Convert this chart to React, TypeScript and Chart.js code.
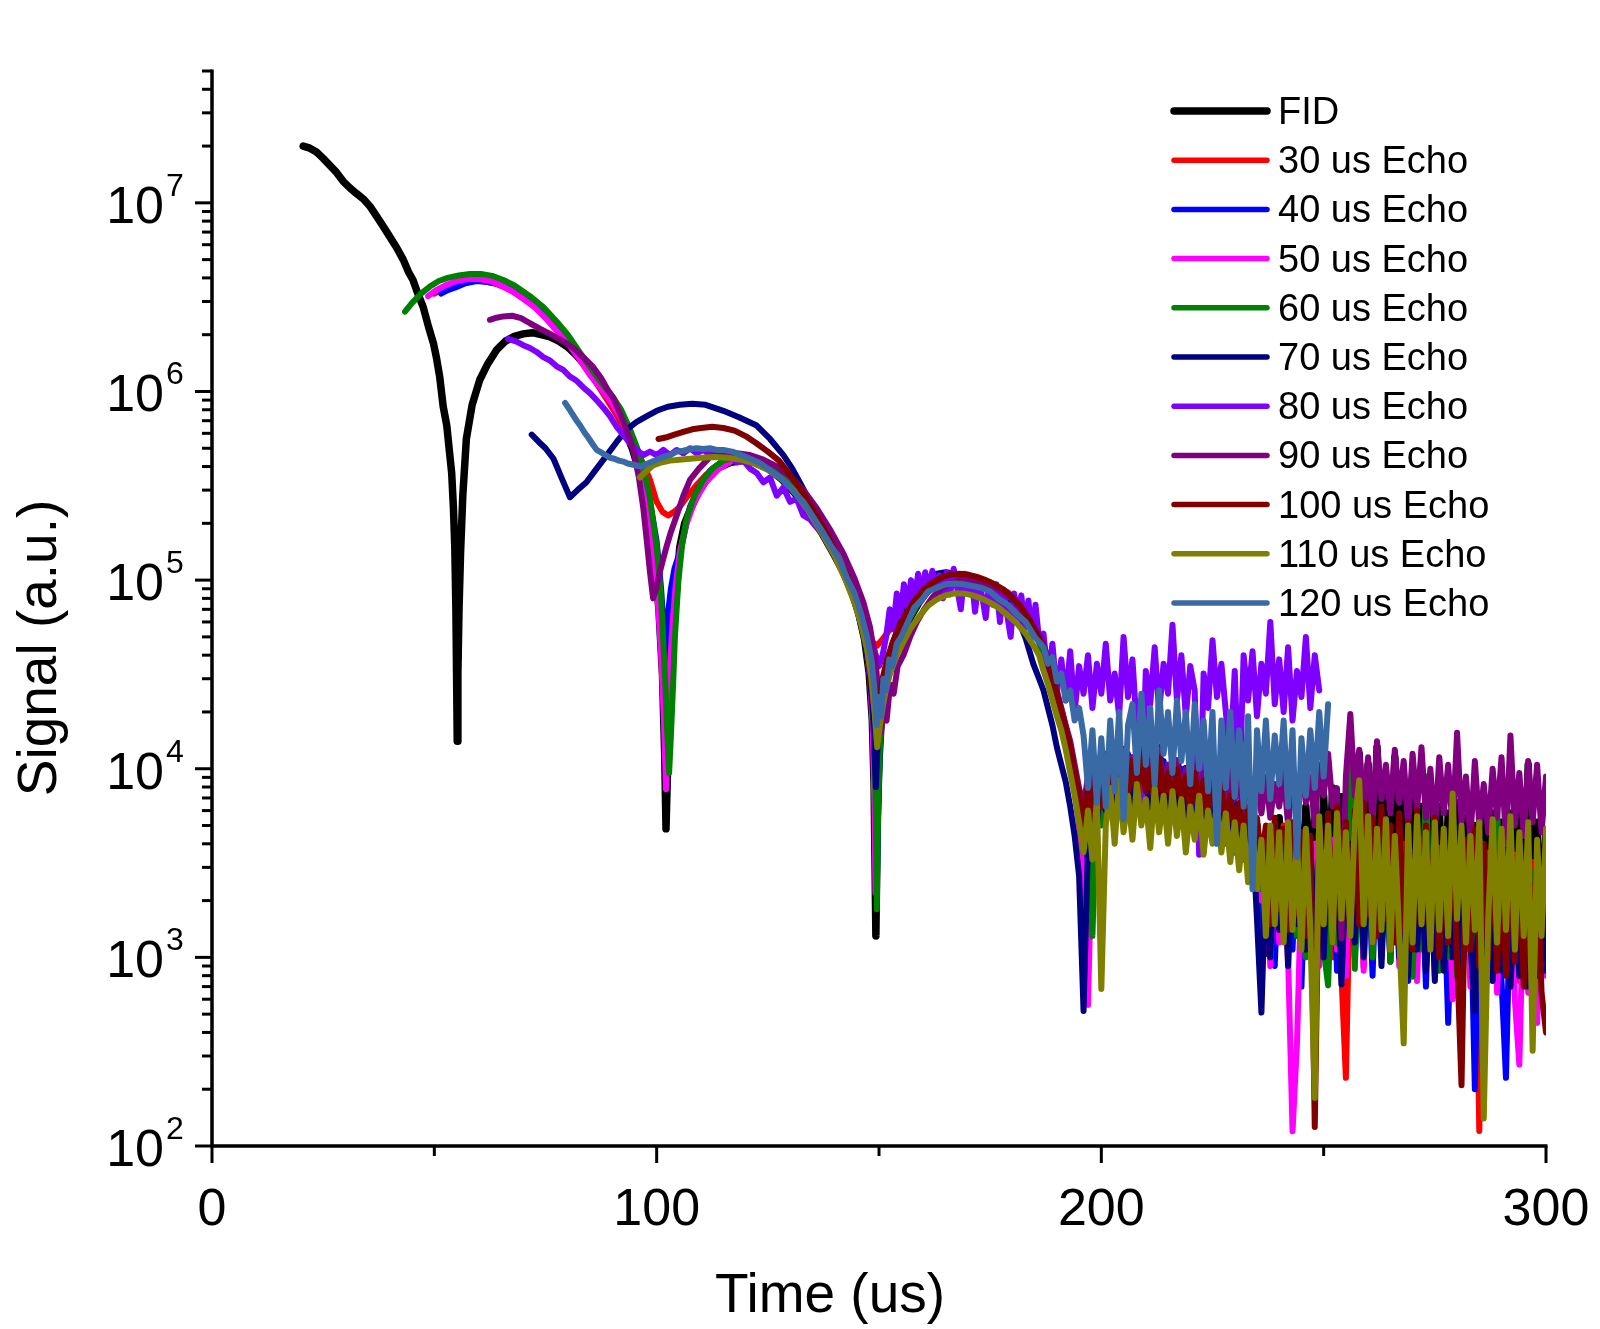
import React, { useEffect, useRef } from "react";
import { Chart, registerables } from "chart.js";

Chart.register(...registerables);

const W = 1600;
const H = 1329;
const FONT = '"Liberation Sans", Arial, Helvetica, sans-serif';

const LABELS = ["FID", "30 us Echo", "40 us Echo", "50 us Echo", "60 us Echo", "70 us Echo", "80 us Echo", "90 us Echo", "100 us Echo", "110 us Echo", "120 us Echo"];
const COLORS = ["#000000", "#FF0000", "#0000FF", "#FF00FF", "#008000", "#000080", "#8000FF", "#800080", "#800000", "#808000", "#3A6AA6"];
const WIDTHS = [7.5, 6, 6, 6, 6, 6, 6, 6, 6, 6, 6];
const LEGEND_WIDTHS = [7.5, 5.5, 5.5, 5.5, 5.5, 5.5, 5.5, 5.5, 5.5, 5.5, 5.5];

const X_MAJOR = [0, 100, 200, 300];
const X_MAJOR_LABELS = ["0", "100", "200", "300"];
const X_MINOR = [50, 150, 250];
const Y_DECADES = [1e2, 1e3, 1e4, 1e5, 1e6, 1e7];
const Y_EXP_LABELS = ["2", "3", "4", "5", "6", "7"];
const Y_MINOR_MULT = [2, 3, 4, 5, 6, 7, 8, 9];
const X_MIN = 0, X_MAX = 300, Y_MIN = 1e2, Y_MAX = 5e7;

const TAIL_T = [
  187,188,189,190,191,192,193,194,195,196,
  197,198,199,200,201,202,203,204,205,206,
  207,208,209,210,211,212,213,214,215,216,
  217,218,219,220,221,222,223,224,225,226,
  227,228,229,230,231,232,233,234,235,236,
  237,238,239,240,241,242,243,244,245,246,
  247,248,249,250,251,252,253,254,255,256,
  257,258,259,260,261,262,263,264,265,266,
  267,268,269,270,271,272,273,274,275,276,
  277,278,279,280,281,282,283,284,285,286,
  287,288,289,290,291,292,293,294,295,296,
  297,298,299,300,
];

const FID_HEAD: [number, number][] = [[20.5,2.0e7],[22,1.95e7],[23.5,1.86e7],[25,1.72e7],[26.5,1.58e7],[28,1.45e7],[29.5,1.3e7],[31,1.2e7],[32.5,1.12e7],[34,1.05e7],[35.5,9.6e6],[37,8.5e6],[38.5,7.5e6],[40,6.6e6],[41.5,5.8e6],[43,5.0e6],[44.2,4.3e6],[45.2,3.9e6],[46.3,3.3e6],[47.5,2.8e6],[48.7,2.2e6],[49.8,1.8e6],[50.5,1.5e6],[51.2,1.2e6],[52,8.3e5],[52.8,6.6e5],[53.4,4.8e5],[53.9,3.7e5],[54.3,2.4e5],[54.6,1.5e5],[54.85,7.0e4],[55.0,3.2e4],[55.15,1.4e4],[55.3,3.2e4],[55.55,7.0e4],[55.9,1.4e5],[56.4,2.8e5],[57.2,5.6e5],[58.5,8.5e5],[60.2,1.15e6],[62,1.4e6],[64,1.66e6],[66,1.85e6],[68,1.96e6],[70,2.02e6],[72,2.05e6],[74,2.0e6],[76,1.95e6],[78,1.85e6],[80,1.72e6],[82,1.55e6],[84.2,1.35e6],[86.5,1.15e6],[88.7,9.8e5],[90.5,8.2e5],[92.5,6.6e5],[94.5,5.0e5],[96.5,3.5e5],[98,2.3e5],[99.5,1.3e5],[100.5,7.0e4],[101.3,3.2e4],[101.8,1.2e4],[102.1,4.8e3],[102.5,1.1e4],[103,2.0e4],[103.5,4.0e4],[104.1,6.8e4],[105.2,1.5e5],[106.3,2.0e5],[107.5,2.35e5],[109.3,2.9e5],[111.2,3.4e5],[113.5,3.9e5],[116.5,4.2e5],[119,4.3e5],[122,4.2e5],[125,3.9e5],[128,3.45e5],[131,2.9e5],[134,2.35e5],[137,1.8e5],[140,1.35e5],[142,1.1e5],[144,8.5e4],[145.5,6.6e4],[146.8,4.8e4],[147.8,3.2e4],[148.5,1.8e4],[148.9,8.0e3],[149.3,1.3e3],[149.6,5.0e3],[150,1.1e4],[150.5,1.8e4],[151.2,2.6e4],[152,3.2e4],[153.5,4.2e4],[155,5.1e4],[157,6.3e4],[159,7.6e4],[161,8.8e4],[164,9.9e4],[167,1.04e5],[170,1.03e5],[173,9.9e4],[176,9.2e4],[179,8.3e4],[182,7.1e4],[184.5,5.8e4],[186,4.8e4]];
const FID_TAIL = [
  4.2e4,3.5e4,2.9e4,2.4e4,2.0e4,1.6e4,1.2e4,8.9e3,6.0e3,3.5e3,
  7.1e3,5.0e3,8.9e3,5.2e3,1.05e4,6.6e3,1.15e4,7.2e3,1.26e4,7.9e3,
  1.1e4,6.0e3,1.26e4,8.3e3,1.1e4,6.9e3,1.3e4,5.5e3,1.0e4,7.2e3,
  1.1e4,7.9e3,1.0e4,4.8e3,8.9e3,6.3e3,1.05e4,5.5e3,9.1e3,5.0e3,
  7.9e3,4.4e3,7.2e3,3.8e3,6.3e3,3.5e3,6.0e3,3.0e3,5.0e3,1.9e3,
  1.05e3,4.0e3,1.5e3,5.5e3,1.8e3,5.0e3,1.4e3,5.8e3,1.7e3,6.3e3,
  1.9e3,6.3e3,2.0e3,7.2e3,1.8e3,7.9e3,2.1e3,7.1e3,1.6e3,8.3e3,
  2.0e3,1.2e4,2.2e3,1.05e4,1.7e3,1.3e4,2.3e3,9.1e3,1.8e3,1.15e4,
  2.0e3,7.6e3,1.5e3,8.3e3,1.9e3,6.3e3,1.4e3,7.2e3,1.6e3,6.3e3,
  1.4e3,5.8e3,1.2e3,6.6e3,1.5e3,5.5e3,1.1e3,5.0e3,1.3e3,6.3e3,
  1.4e3,5.8e3,1.2e3,5.2e3,1.1e3,5.8e3,1.5e3,6.6e3,1.6e3,1.05e4,
  1.4e3,5.2e3,1.2e3,4.6e3,
];

const E30_HEAD: [number, number][] = [[50,3.3e6],[52,3.5e6],[54,3.65e6],[56,3.8e6],[58.5,3.9e6],[61,3.85e6],[63.5,3.75e6],[66,3.55e6],[68.5,3.3e6],[71,3.0e6],[73.5,2.7e6],[76,2.35e6],[78.5,2.0e6],[81,1.7e6],[83.5,1.4e6],[86,1.15e6],[88.5,9.3e5],[91,7.5e5],[93,6.2e5],[94.5,5.5e5],[96,4.6e5],[97.3,4.0e5],[98.5,3.4e5],[100,2.6e5],[101.3,2.3e5],[102.6,2.2e5],[103.9,2.3e5],[105.2,2.45e5],[107,2.8e5],[109,3.2e5],[111,3.6e5],[113.5,4.0e5],[116,4.3e5],[119,4.4e5],[122,4.3e5],[125,3.95e5],[128,3.5e5],[131,3.0e5],[134,2.4e5],[137,1.8e5],[140,1.35e5],[142.5,1.02e5],[144.5,7.8e4],[146,6.2e4],[147.3,5.2e4],[148.5,4.7e4],[149.6,4.5e4],[150.6,4.8e4],[152,5.3e4],[154,6.0e4],[156,6.9e4],[158,7.8e4],[161,8.9e4],[164,9.8e4],[167,1.05e5],[170,1.05e5],[173,1.0e5],[176,9.4e4],[179,8.6e4],[182,7.5e4],[184,6.5e4],[186,5.2e4]];
const E30_TAIL = [
  4.0e4,3.3e4,2.8e4,2.3e4,1.9e4,1.5e4,1.15e4,8.3e3,6.3e3,4.2e3,
  7.9e3,4.6e3,9.5e3,5.8e3,1.1e4,6.3e3,1.2e4,6.9e3,1.05e4,7.6e3,
  1.15e4,6.6e3,1.0e4,7.9e3,1.2e4,6.0e3,1.1e4,7.2e3,9.5e3,6.3e3,
  1.05e4,6.9e3,9.1e3,5.5e3,1.0e4,6.0e3,8.3e3,5.0e3,8.7e3,4.6e3,
  7.6e3,4.2e3,6.9e3,3.6e3,6.3e3,3.3e3,5.5e3,2.9e3,4.8e3,2.5e3,
  3.6e3,1.1e3,4.6e3,1.6e3,5.0e3,9.0e2,4.2e3,1.9e3,4.6e3,1.2e3,
  4.2e3,1.6e3,5.0e3,1.3e3,4.6e3,1.0e3,4.0e3,8.0e2,2.3e2,3.2e3,
  1.5e3,4.0e3,8.9e2,3.6e3,1.1e3,4.4e3,1.4e3,3.8e3,9.5e2,4.2e3,
  1.2e3,4.0e3,1.0e3,3.6e3,1.5e3,4.2e3,8.5e2,3.5e3,1.2e3,3.8e3,
  1.1e3,3.5e3,9.0e2,3.8e3,1.3e3,3.2e3,1.0e3,3.6e3,1.2e2,2.5e3,
  3.6e3,9.5e2,3.3e3,8.0e2,3.2e3,1.1e3,3.5e3,7.5e2,3.0e3,1.0e3,
  3.2e3,8.5e2,2.9e3,1.1e3,
];

const E40_HEAD: [number, number][] = [[51.5,3.3e6],[53,3.45e6],[54.6,3.55e6],[57,3.75e6],[59.5,3.85e6],[62,3.8e6],[64.5,3.7e6],[67,3.5e6],[69.5,3.25e6],[72,2.95e6],[74.5,2.65e6],[77,2.3e6],[79.5,1.95e6],[82,1.65e6],[84.5,1.35e6],[87,1.1e6],[89.5,9.0e5],[91.5,7.6e5],[93.5,6.2e5],[95.5,4.9e5],[97,3.8e5],[98.5,2.6e5],[100,1.6e5],[101,9.0e4],[101.7,5.0e4],[102.2,3.2e4],[102.6,6.8e4],[103.2,9.0e4],[104,1.15e5],[105.6,1.5e5],[107.5,2.45e5],[109.5,3.1e5],[112,3.8e5],[115,4.3e5],[119,4.5e5],[122,4.35e5],[125,4.0e5],[128,3.55e5],[131,3.0e5],[134,2.4e5],[137,1.8e5],[140,1.35e5],[142.5,1.02e5],[144.5,7.8e4],[146,5.9e4],[147.3,4.3e4],[148.3,2.8e4],[148.9,1.4e4],[149.3,5.0e3],[149.5,2.2e3],[149.8,6.0e3],[150.2,1.3e4],[150.8,2.2e4],[151.6,3.0e4],[152.8,3.9e4],[154.5,5.0e4],[156.5,6.2e4],[158.5,7.4e4],[160.5,8.6e4],[163,9.6e4],[166,1.03e5],[169,1.04e5],[172,1.01e5],[175,9.5e4],[178,8.6e4],[181,7.5e4],[183.5,6.3e4],[186,4.8e4]];
const E40_TAIL = [
  4.0e4,3.3e4,2.8e4,2.2e4,1.8e4,1.45e4,1.1e4,7.9e3,5.5e3,3.2e3,
  6.3e3,9.1e3,5.2e3,1.0e4,6.6e3,1.15e4,6.0e3,1.05e4,7.2e3,1.2e4,
  6.9e3,1.05e4,5.8e3,1.15e4,7.6e3,1.0e4,6.3e3,1.1e4,6.9e3,9.1e3,
  6.0e3,1.0e4,6.6e3,9.1e3,5.0e3,8.3e3,5.8e3,8.7e3,4.8e3,7.6e3,
  4.4e3,7.2e3,4.0e3,6.6e3,3.6e3,6.0e3,3.2e3,5.2e3,2.9e3,1.3e3,
  1.3e3,4.2e3,9.0e2,3.8e3,1.6e3,4.6e3,1.1e3,4.0e3,7.0e2,3.6e3,
  1.1e3,4.0e3,9.5e2,3.6e3,1.4e3,4.2e3,8.5e2,3.8e3,1.2e3,4.4e3,
  1.0e3,3.8e3,1.4e3,3.5e3,8.0e2,4.0e3,1.2e3,3.3e3,9.5e2,3.6e3,
  1.1e3,3.2e3,7.5e2,3.6e3,1.0e3,3.0e3,7.0e2,3.3e3,9.0e2,2.9e3,
  2.6e3,4.5e2,2.5e3,9.0e2,2.9e3,1.0e3,2.4e3,2.0e2,2.8e3,8.0e2,
  2.6e3,9.0e2,2.4e3,7.5e2,2.3e2,2.3e3,8.5e2,2.5e3,7.0e2,2.2e3,
  7.5e2,2.3e3,8.0e2,2.0e3,
];

const E50_HEAD: [number, number][] = [[48.6,3.2e6],[50.5,3.45e6],[52.5,3.65e6],[55,3.85e6],[57.5,3.95e6],[60,3.95e6],[62.5,3.85e6],[65,3.65e6],[67.5,3.4e6],[70,3.1e6],[72.5,2.8e6],[75,2.45e6],[77.5,2.1e6],[80,1.8e6],[82.5,1.5e6],[85,1.22e6],[88,1.0e6],[90,8.6e5],[92,7.2e5],[93.5,6.0e5],[95,4.8e5],[96.5,3.6e5],[98,2.3e5],[99.3,1.35e5],[100.3,7.5e4],[101,4.0e4],[101.6,1.9e4],[102.1,7.8e3],[102.5,1.6e4],[103,3.5e4],[103.6,6.0e4],[104.3,9.5e4],[105.3,1.45e5],[106.6,1.95e5],[108.5,2.6e5],[111,3.3e5],[114,3.9e5],[117,4.3e5],[120,4.4e5],[123,4.2e5],[126,3.85e5],[129,3.4e5],[132,2.85e5],[135,2.25e5],[138,1.7e5],[141,1.25e5],[143.5,9.0e4],[145.5,6.6e4],[147,4.6e4],[148,3.0e4],[148.6,1.6e4],[149.0,6.0e3],[149.2,2.2e3],[149.5,6.0e3],[150,1.4e4],[150.6,2.2e4],[151.4,2.9e4],[152.6,3.8e4],[154.3,4.9e4],[156.3,6.1e4],[158.3,7.3e4],[160.5,8.5e4],[163,9.5e4],[166,1.02e5],[169,1.03e5],[172,1.0e5],[175,9.4e4],[178,8.5e4],[181,7.4e4],[183.5,6.2e4],[186,4.7e4]];
const E50_TAIL = [
  4.0e4,3.3e4,2.7e4,2.2e4,1.8e4,1.4e4,1.05e4,7.6e3,5.0e3,2.5e3,
  5.6e2,5.0e3,8.3e3,5.5e3,1.0e4,6.9e3,1.1e4,6.3e3,1.15e4,7.2e3,
  1.05e4,6.6e3,1.15e4,7.2e3,1.0e4,6.0e3,1.1e4,6.9e3,9.5e3,6.3e3,
  9.1e3,5.8e3,9.5e3,5.2e3,8.3e3,6.0e3,8.7e3,5.0e3,7.9e3,4.6e3,
  7.2e3,4.2e3,6.6e3,3.8e3,6.0e3,3.5e3,5.5e3,3.0e3,4.8e3,2.0e3,
  3.2e3,9.0e2,3.6e3,1.2e3,4.0e3,1.0e3,1.2e2,3.5e2,2.5e3,3.8e3,
  1.2e3,4.0e3,9.0e2,3.6e3,1.5e3,4.2e3,1.1e3,3.8e3,8.0e2,3.5e3,
  1.3e3,3.6e3,8.5e2,4.0e3,1.4e3,3.3e3,1.0e3,3.8e3,1.2e3,3.2e3,
  9.0e2,3.5e3,1.3e3,3.0e3,7.5e2,3.6e3,1.1e3,2.9e3,8.0e2,3.3e3,
  1.0e3,2.9e3,6.0e2,3.2e3,1.1e3,2.8e3,7.0e2,3.0e3,9.0e2,2.5e3,
  7.5e2,2.8e3,6.5e2,2.5e3,9.0e2,2.9e3,6.0e2,2.7e2,2.3e3,6.5e2,
  2.4e3,4.5e2,2.0e3,8.0e2,
];

const E60_HEAD: [number, number][] = [[43.4,2.65e6],[45,2.95e6],[47,3.3e6],[49,3.6e6],[51,3.85e6],[53,4.0e6],[55.5,4.12e6],[58,4.2e6],[60.5,4.2e6],[63,4.1e6],[65.5,3.9e6],[68,3.65e6],[71.5,3.2e6],[74.5,2.8e6],[77.5,2.35e6],[80,2.0e6],[82.8,1.6e6],[85.5,1.3e6],[88,1.08e6],[90.2,9.3e5],[92,8.0e5],[94,6.3e5],[95.5,5.1e5],[97,4.0e5],[98.5,2.7e5],[100,1.5e5],[101,8.0e4],[101.9,3.0e4],[102.4,1.5e4],[102.8,9.5e3],[103.2,1.5e4],[103.7,2.8e4],[104.1,5.0e4],[104.9,1.0e5],[105.8,1.6e5],[106.7,2.1e5],[108.5,2.8e5],[110.5,3.4e5],[112.5,3.9e5],[115,4.3e5],[118,4.5e5],[121,4.4e5],[124,4.1e5],[127,3.7e5],[130,3.2e5],[133,2.6e5],[136,2.0e5],[139,1.55e5],[142,1.15e5],[144,8.7e4],[145.5,6.8e4],[147,4.8e4],[148.2,3.2e4],[148.9,1.6e4],[149.3,6.0e3],[149.5,1.8e3],[149.8,6.0e3],[150.2,1.3e4],[150.8,2.1e4],[151.6,2.9e4],[152.8,3.8e4],[154.5,4.9e4],[156.5,6.1e4],[158.5,7.3e4],[160.5,8.5e4],[163,9.5e4],[166,1.02e5],[169,1.03e5],[172,1.0e5],[175,9.4e4],[178,8.5e4],[181,7.4e4],[183.5,6.2e4],[186,4.7e4]];
const E60_TAIL = [
  4.0e4,3.3e4,2.8e4,2.2e4,1.8e4,1.5e4,1.1e4,8.3e3,6.0e3,3.6e3,
  5.2e3,1.3e3,7.9e3,5.0e3,9.5e3,6.3e3,1.1e4,6.9e3,1.0e4,7.6e3,
  1.1e4,6.3e3,1.0e4,7.2e3,1.15e4,6.6e3,9.5e3,7.6e3,1.05e4,6.0e3,
  9.5e3,6.3e3,8.7e3,5.5e3,9.1e3,5.2e3,7.9e3,5.8e3,8.3e3,4.8e3,
  6.9e3,4.0e3,6.3e3,3.6e3,5.8e3,3.3e3,5.2e3,2.9e3,4.6e3,2.3e3,
  3.6e3,1.1e3,4.2e3,1.5e3,3.8e3,1.2e3,4.4e3,1.3e3,3.6e3,1.0e3,
  3.8e3,1.3e3,4.0e3,1.1e3,7.1e2,3.2e3,1.2e3,4.2e3,1.5e3,1.26e4,
  8.7e2,3.6e3,1.3e3,4.0e3,1.0e3,3.5e3,1.4e3,3.8e3,9.5e2,3.3e3,
  1.2e3,3.6e3,9.0e2,7.9e2,3.2e3,1.1e3,9.1e3,1.2e3,3.5e3,8.5e2,
  3.2e3,1.0e3,2.9e3,8.0e2,3.3e3,1.1e3,2.8e3,7.5e2,3.0e3,9.0e2,
  2.8e3,8.5e2,6.3e3,9.5e2,2.6e3,7.0e2,2.9e3,8.5e2,2.5e3,8.0e2,
  2.8e3,8.5e2,2.4e3,9.0e2,
];

const E70_HEAD: [number, number][] = [[71.9,5.9e5],[73.5,5.4e5],[75,5.0e5],[76.8,4.4e5],[78.8,3.4e5],[80.5,2.75e5],[82.2,3.0e5],[84.2,3.3e5],[86.5,3.9e5],[88.8,4.6e5],[91,5.4e5],[93.3,6.3e5],[95.5,6.9e5],[97.8,7.4e5],[100,7.9e5],[102.5,8.3e5],[105.2,8.5e5],[108,8.6e5],[111,8.5e5],[115,7.9e5],[118.5,7.3e5],[122.5,6.6e5],[125.5,5.6e5],[128.5,4.6e5],[130.5,3.9e5],[132.5,3.2e5],[134.5,2.6e5],[136.5,2.1e5],[139,1.6e5],[141.5,1.2e5],[143.5,9.2e4],[145.2,6.8e4],[146.6,5.0e4],[147.8,3.4e4],[148.7,1.9e4],[149.3,8.0e3],[149.8,1.6e4],[150.5,2.5e4],[151.5,3.4e4],[153,4.6e4],[155,6.2e4],[157,7.8e4],[159,9.2e4],[161,1.03e5],[163,1.08e5],[165,1.1e5],[167,1.08e5],[170,1.04e5],[173,9.8e4],[176,8.9e4],[179,7.6e4],[181,6.4e4],[183,4.9e4],[184.7,3.6e4],[186,3.0e4]];
const E70_TAIL = [
  2.6e4,2.1e4,1.7e4,1.3e4,1.05e4,8.5e3,6.3e3,4.4e3,2.7e3,5.2e2,
  4.0e3,7.2e3,5.0e3,9.1e3,6.0e3,1.05e4,6.6e3,9.5e3,5.8e3,1.1e4,
  6.3e3,1.0e4,6.9e3,9.1e3,5.5e3,1.05e4,6.6e3,8.7e3,6.0e3,1.0e4,
  5.8e3,8.7e3,5.2e3,7.9e3,6.0e3,8.3e3,4.8e3,7.6e3,5.2e3,7.2e3,
  4.2e3,6.9e3,3.8e3,6.3e3,3.5e3,5.5e3,3.2e3,4.6e3,1.6e3,5.1e2,
  2.9e3,1.0e3,4.0e3,1.4e3,3.6e3,9.0e2,4.2e3,1.5e3,3.3e3,1.1e3,
  4.0e3,1.3e3,3.6e3,1.0e3,4.2e3,1.5e3,3.5e3,7.2e2,2.9e3,4.0e3,
  1.2e3,3.6e3,1.0e3,3.3e3,1.2e3,3.8e3,9.0e2,3.2e3,1.3e3,3.5e3,
  1.0e3,3.2e3,8.0e2,3.5e3,1.1e3,2.9e3,8.5e2,3.3e3,7.5e2,2.9e3,
  8.5e2,3.0e3,1.0e3,2.6e3,7.5e2,2.9e3,1.2e3,5.2e2,2.5e3,8.0e2,
  2.9e3,7.5e2,2.5e3,8.5e2,2.8e3,7.0e2,2.3e3,8.0e2,2.6e3,7.0e2,
  2.4e3,8.0e2,2.2e3,8.5e2,
];

const E80_HEAD: [number, number][] = [[66.6,1.9e6],[68.5,1.84e6],[70,1.76e6],[71.5,1.7e6],[73,1.62e6],[74.5,1.52e6],[76,1.46e6],[77.5,1.36e6],[79,1.3e6],[80.5,1.2e6],[82,1.14e6],[83.5,1.05e6],[85,9.8e5],[86.5,9.0e5],[88,8.2e5],[89.5,7.4e5],[91,6.5e5],[92.5,5.9e5],[94,5.3e5],[95.5,4.9e5],[97,4.6e5],[98.5,4.8e5],[100,4.6e5],[101.5,4.9e5],[103,4.6e5],[104.5,4.9e5],[106,4.7e5],[107.5,5.0e5],[109,4.7e5],[110.5,4.9e5],[112,4.6e5],[113.5,4.8e5],[115,4.5e5],[116.5,4.6e5],[118,4.2e5],[119.5,4.3e5],[121,3.9e5],[122.5,3.7e5],[124,3.3e5],[125.5,3.5e5],[127,2.8e5],[128.5,3.1e5],[130,2.6e5],[131.5,2.7e5],[133,2.2e5],[134.5,2.1e5],[136,1.9e5],[137.5,1.75e5],[139,1.5e5],[140.5,1.35e5],[142,1.15e5],[143.5,1.0e5],[145,8.2e4],[146.5,6.6e4],[148,5.2e4],[149.3,4.0e4],[150,3.5e4],[150.8,4.0e4],[151.6,5.0e4],[152.4,7.0e4],[153.2,5.5e4],[154,8.5e4],[154.8,6.3e4],[155.6,9.5e4],[156.4,7.2e4],[157.2,1.0e5],[158,7.9e4],[158.8,1.08e5],[159.6,8.5e4],[160.4,1.1e5],[161.2,8.7e4],[162,1.12e5],[162.8,9.2e4],[163.6,1.06e5],[164.4,8.0e4],[165.2,1.1e5],[166,8.4e4],[166.8,1.15e5],[167.6,9.0e4],[168.4,7.0e4],[169.2,1.08e5],[170,8.7e4],[170.8,1.05e5],[171.6,6.8e4],[172.4,1.0e5],[173.2,8.2e4],[174,6.3e4],[174.8,9.8e4],[175.6,7.4e4],[176.4,9.5e4],[177.2,6.0e4],[178,8.9e4],[178.8,6.6e4],[179.6,5.0e4],[180.4,8.5e4],[181.2,6.0e4],[182,8.3e4],[182.8,5.6e4],[183.6,7.8e4],[184.4,5.0e4],[185.2,7.4e4],[186,4.8e4]];
const E80_TAIL = [
  5.2e4,3.0e4,4.6e4,2.5e4,3.8e4,2.3e4,4.2e4,2.0e4,3.5e4,2.5e4,
  4.0e4,2.1e4,3.6e4,2.5e4,4.6e4,2.3e4,3.2e4,1.9e4,5.0e4,2.4e4,
  3.8e4,1.6e4,5.6e3,3.3e4,2.2e4,4.4e4,2.0e4,3.6e4,2.5e4,5.8e4,
  2.3e4,4.0e4,1.9e4,3.5e4,2.6e4,3.5e3,3.2e4,2.1e4,4.8e4,2.4e4,
  3.6e4,2.0e4,1.1e4,3.3e4,7.1e3,4.0e4,2.3e4,4.2e4,1.9e4,3.6e4,
  2.5e4,6.0e4,2.2e4,3.8e4,2.0e4,4.4e4,1.8e4,3.3e4,2.4e4,5.0e4,
  2.1e4,4.0e4,2.6e4,
];

const E90_HEAD: [number, number][] = [[62.5,2.4e6],[64,2.46e6],[65.5,2.5e6],[67.5,2.52e6],[69.5,2.45e6],[71.5,2.3e6],[73.8,2.15e6],[76,2.02e6],[78,1.9e6],[79.7,1.8e6],[81.5,1.68e6],[83.5,1.52e6],[85.7,1.35e6],[87.5,1.18e6],[89,1.02e6],[90.2,9.3e5],[91.5,7.9e5],[92.8,6.6e5],[94,5.6e5],[95,4.6e5],[96,3.5e5],[97,2.4e5],[97.8,1.6e5],[98.5,1.1e5],[99.2,8.0e4],[99.9,9.0e4],[100.7,1.1e5],[101.5,1.3e5],[102.2,1.5e5],[103.2,1.8e5],[104.5,2.2e5],[106,2.8e5],[107.5,3.4e5],[109.5,3.9e5],[112,4.5e5],[115,4.65e5],[118,4.7e5],[121,4.6e5],[124,4.35e5],[127,4.0e5],[130,3.55e5],[133,3.0e5],[136,2.4e5],[139,1.85e5],[142,1.38e5],[144.5,1.02e5],[146.5,7.6e4],[148,5.6e4],[149.3,3.6e4],[150,2.2e4],[150.4,1.55e4],[151,2.0e4],[151.7,1.8e4],[152.5,2.8e4],[153.3,2.5e4],[154.2,3.5e4],[155.5,4.0e4],[157,5.0e4],[158.5,6.0e4],[160,6.9e4],[162,8.1e4],[164,9.0e4],[166,9.6e4],[168,1.0e5],[170,1.0e5],[172,9.9e4],[174,9.6e4],[176,9.2e4],[178,8.6e4],[180,7.9e4],[182,7.0e4],[184,6.0e4],[186,5.1e4]];
const E90_TAIL = [
  4.6e4,3.8e4,3.2e4,2.6e4,2.1e4,1.7e4,1.4e4,1.05e4,7.9e3,6.3e3,
  9.1e3,6.0e3,1.1e4,6.9e3,1.2e4,7.6e3,1.05e4,6.6e3,1.26e4,7.9e3,
  1.15e4,7.2e3,1.3e4,8.3e3,1.1e4,6.9e3,1.26e4,7.9e3,1.05e4,7.2e3,
  1.1e4,7.6e3,1.0e4,6.3e3,1.05e4,7.2e3,9.5e3,6.6e3,1.0e4,6.9e3,
  9.1e3,6.3e3,1.0e4,6.9e3,8.7e3,6.0e3,9.5e3,6.6e3,8.3e3,5.8e3,
  9.1e3,5.5e3,8.3e3,6.3e3,9.5e3,5.0e3,8.7e3,6.0e3,1.0e4,6.6e3,
  9.1e3,5.0e3,1.05e4,7.2e3,1.2e4,6.3e3,7.9e3,1.26e3,9.1e3,1.95e4,
  7.2e3,1.26e4,6.3e3,1.15e4,5.2e3,1.4e4,6.9e3,1.05e4,5.8e3,1.26e4,
  6.6e3,1.1e4,5.0e3,1.2e4,6.0e3,1.3e4,5.5e3,1.0e4,4.6e3,1.15e4,
  5.8e3,1.05e4,4.8e3,1.55e4,5.2e3,9.1e3,4.2e3,1.1e4,5.0e3,8.3e3,
  4.6e3,1.0e4,5.5e3,1.15e4,4.0e3,1.5e4,5.0e3,9.5e3,4.4e3,1.1e4,
  5.2e3,1.05e4,4.6e3,9.1e3,
];

const E100_HEAD: [number, number][] = [[100.4,5.6e5],[102,5.7e5],[104,5.9e5],[106,6.1e5],[108,6.3e5],[110,6.4e5],[112.5,6.5e5],[115,6.4e5],[117.5,6.2e5],[120,5.8e5],[122.5,5.3e5],[125,4.8e5],[127.5,4.3e5],[130,3.6e5],[132.5,3.0e5],[135,2.4e5],[137.5,1.9e5],[140,1.45e5],[142.5,1.1e5],[144.5,8.3e4],[146,6.3e4],[147.3,4.6e4],[148.6,2.4e4],[149.3,1.8e4],[150,2.3e4],[150.8,3.0e4],[151.8,3.8e4],[153,4.6e4],[154.5,5.6e4],[156,6.6e4],[158,7.8e4],[160,8.9e4],[162,9.7e4],[164,1.03e5],[166,1.07e5],[168,1.08e5],[170,1.07e5],[172,1.04e5],[174,1.0e5],[176,9.5e4],[178,8.9e4],[180,8.1e4],[182,7.2e4],[184,6.1e4],[186,4.9e4]];
const E100_TAIL = [
  4.4e4,3.6e4,3.0e4,2.5e4,2.0e4,1.65e4,1.3e4,9.8e3,7.2e3,5.0e3,
  8.3e3,5.5e3,1.0e4,6.3e3,1.15e4,7.2e3,1.05e4,6.0e3,1.2e4,7.6e3,
  1.1e4,6.9e3,1.2e4,7.6e3,1.0e4,6.3e3,1.15e4,7.2e3,9.5e3,6.6e3,
  1.0e4,6.9e3,9.1e3,5.8e3,9.5e3,6.3e3,8.7e3,5.5e3,9.1e3,6.0e3,
  7.9e3,5.0e3,7.2e3,4.6e3,6.6e3,4.2e3,6.3e3,3.8e3,5.5e3,3.2e3,
  5.0e3,1.5e3,5.5e3,1.8e3,4.8e3,1.4e3,5.2e3,1.7e3,4.6e3,1.3e3,
  4.4e3,1.26e2,4.0e3,1.5e3,5.8e3,1.2e3,6.3e3,1.6e3,5.2e3,1.3e3,
  6.0e3,1.5e3,6.6e3,1.7e3,5.5e3,1.3e3,6.3e3,1.6e3,5.0e3,1.2e3,
  5.8e3,1.4e3,5.2e3,1.1e3,6.0e3,1.5e3,5.0e3,1.2e3,5.5e3,1.0e3,
  4.6e3,1.2e3,5.0e3,1.0e3,2.1e2,4.2e3,1.1e3,4.8e3,9.0e2,4.0e3,
  1.0e3,4.4e3,8.5e2,3.8e3,8.0e2,4.2e3,9.5e2,3.6e3,7.0e2,4.0e3,
  8.5e2,3.6e3,6.5e2,4.0e2,
];

const E110_HEAD: [number, number][] = [[96.2,3.5e5],[97.5,3.75e5],[99.2,4.05e5],[101,4.2e5],[103,4.3e5],[105,4.35e5],[107.5,4.4e5],[110,4.45e5],[113,4.5e5],[116,4.45e5],[119,4.35e5],[122,4.15e5],[125,3.85e5],[128,3.45e5],[131,2.95e5],[134,2.35e5],[137,1.8e5],[140,1.35e5],[142.5,1.0e5],[144.5,7.6e4],[146,5.8e4],[147.3,4.3e4],[148.3,3.0e4],[149,2.0e4],[149.6,1.3e4],[150.2,1.7e4],[150.8,2.1e4],[151.5,2.6e4],[152.5,3.2e4],[154,4.0e4],[155.5,4.7e4],[157,5.5e4],[159,6.4e4],[161,7.3e4],[163,7.9e4],[165,8.3e4],[167,8.5e4],[169,8.5e4],[171,8.3e4],[173,8.0e4],[175,7.6e4],[177,7.1e4],[179,6.5e4],[181,5.9e4],[183,5.2e4],[185,4.4e4],[186,4.0e4]];
const E110_TAIL = [
  3.3e4,2.8e4,2.3e4,1.9e4,1.6e4,1.26e4,9.5e3,7.2e3,5.2e3,3.6e3,
  6.0e3,3.3e3,6.9e3,6.8e2,5.0e3,7.9e3,4.0e3,8.7e3,4.6e3,7.2e3,
  4.2e3,8.3e3,5.0e3,6.9e3,3.8e3,7.9e3,4.6e3,7.2e3,4.0e3,7.6e3,
  4.4e3,6.9e3,3.6e3,6.3e3,4.2e3,7.2e3,3.5e3,6.0e3,4.0e3,6.6e3,
  3.6e3,5.8e3,3.2e3,5.2e3,2.9e3,5.0e3,2.5e3,4.6e3,2.3e3,4.2e3,
  1.3e3,5.0e3,1.5e3,4.6e3,1.2e3,5.2e3,1.4e3,4.2e3,1.1e3,4.8e3,
  1.4e3,1.8e2,5.6e3,1.5e3,5.0e3,1.2e3,5.8e3,1.6e3,4.6e3,1.3e3,
  5.2e3,8.7e3,1.5e3,5.6e3,1.2e3,4.8e3,1.4e3,5.4e3,1.1e3,4.4e3,
  1.3e3,3.5e2,5.0e3,1.2e3,5.6e3,1.5e3,4.6e3,1.1e3,5.2e3,1.4e3,
  4.8e3,1.3e3,7.4e3,1.6e3,5.0e3,1.2e3,4.4e3,1.4e3,5.2e3,1.4e2,
  1.6e3,5.4e3,1.2e3,4.8e3,1.4e3,5.6e3,1.1e3,4.6e3,1.3e3,5.2e3,
  3.2e2,4.2e3,1.3e3,4.8e3,
];

const E120_HEAD: [number, number][] = [[79.4,8.7e5],[80.3,8.1e5],[81.2,7.5e5],[82,7.0e5],[82.8,6.6e5],[83.7,6.1e5],[84.6,5.7e5],[85.5,5.3e5],[86.5,4.9e5],[87.5,4.75e5],[88.5,4.6e5],[89.5,4.45e5],[90.5,4.4e5],[91.5,4.3e5],[92.5,4.25e5],[93.5,4.15e5],[94.5,4.1e5],[95.5,4.05e5],[96.5,4.0e5],[97.5,4.1e5],[98.5,4.2e5],[100,4.35e5],[101.5,4.5e5],[103,4.6e5],[104.5,4.8e5],[106,4.85e5],[107.5,4.95e5],[109,5.0e5],[110.5,4.95e5],[112,5.0e5],[113.5,4.9e5],[115,4.9e5],[117,4.8e5],[119,4.6e5],[121,4.4e5],[123,4.2e5],[125,3.9e5],[127,3.6e5],[129,3.3e5],[131,2.9e5],[133,2.6e5],[135,2.2e5],[137,1.85e5],[139,1.55e5],[141,1.3e5],[143,1.0e5],[144.5,8.5e4],[146,6.6e4],[147.3,5.0e4],[148.3,3.8e4],[149,2.6e4],[149.5,1.7e4],[150,2.4e4],[150.5,1.9e4],[151,3.0e4],[151.6,2.6e4],[152.3,3.8e4],[153,3.5e4],[154,4.6e4],[155,5.0e4],[156.5,6.0e4],[158,7.2e4],[159.5,7.8e4],[161,8.7e4],[163,9.1e4],[165,9.5e4],[167,9.6e4],[169,9.5e4],[171,9.3e4],[173,9.1e4],[175,8.7e4],[177,7.9e4],[179,7.4e4],[181,6.6e4],[183,6.0e4],[185,5.0e4],[186,4.7e4]];
const E120_TAIL = [
  4.4e4,3.6e4,3.9e4,2.9e4,3.2e4,2.3e4,2.6e4,1.8e4,2.1e4,1.5e4,
  7.9e3,1.6e4,6.6e3,1.45e4,6.3e3,1.8e4,7.6e3,2.0e4,5.4e3,1.7e4,
  2.2e4,9.5e3,2.5e4,1.05e4,2.1e4,8.3e3,2.6e4,1.2e4,2.0e4,9.5e3,
  2.3e4,1.1e4,2.0e4,8.3e3,2.2e4,1.0e4,1.8e4,7.6e3,2.0e4,4.0e3,
  1.8e4,7.9e3,2.0e4,7.1e3,1.6e4,6.3e3,1.9e4,2.3e3,1.6e4,7.6e3,
  1.8e4,6.9e3,1.5e4,8.3e3,1.8e4,6.3e3,1.6e4,3.4e3,1.45e4,7.2e3,
  1.6e4,7.9e3,2.0e4,9.1e3,2.2e4,
];

const HEADS = [FID_HEAD, E30_HEAD, E40_HEAD, E50_HEAD, E60_HEAD, E70_HEAD, E80_HEAD, E90_HEAD, E100_HEAD, E110_HEAD, E120_HEAD];
const TAILS = [FID_TAIL, E30_TAIL, E40_TAIL, E50_TAIL, E60_TAIL, E70_TAIL, E80_TAIL, E90_TAIL, E100_TAIL, E110_TAIL, E120_TAIL];

function toPoints(head: [number, number][], tail: number[]) {
  const pts = head.map(([x, y]) => ({ x, y }));
  tail.forEach((y, i) => pts.push({ x: TAIL_T[i], y }));
  return pts;
}

const decorPlugin = {
  id: "originDecor",
  afterDraw(chart: any) {
    const { ctx, chartArea: a } = chart;
    const xs = chart.scales.x;
    const ys = chart.scales.y;
    ctx.save();
    ctx.strokeStyle = "#000";
    ctx.fillStyle = "#000";
    ctx.lineCap = "butt";

    ctx.lineWidth = 3.5;
    ctx.beginPath();
    ctx.moveTo(a.left, a.top - 1.5);
    ctx.lineTo(a.left, a.bottom);
    ctx.lineTo(a.right + 1.5, a.bottom);
    ctx.stroke();

    ctx.lineWidth = 3;
    Y_DECADES.forEach((d, i) => {
      const py = ys.getPixelForValue(d);
      ctx.beginPath();
      ctx.moveTo(a.left, py);
      ctx.lineTo(a.left - 17, py);
      ctx.stroke();
      Y_MINOR_MULT.forEach((m) => {
        const v = m * d;
        if (v > Y_MAX) return;
        const pm = ys.getPixelForValue(v);
        ctx.beginPath();
        ctx.moveTo(a.left, pm);
        ctx.lineTo(a.left - 10, pm);
        ctx.stroke();
      });
      ctx.textAlign = "right";
      ctx.textBaseline = "alphabetic";
      ctx.font = `52px ${FONT}`;
      ctx.fillText("10", a.left - 48, py + 20);
      ctx.textAlign = "left";
      ctx.font = `32px ${FONT}`;
      ctx.fillText(Y_EXP_LABELS[i], a.left - 46, py - 7);
    });

    X_MAJOR.forEach((t, i) => {
      const px = xs.getPixelForValue(t);
      ctx.beginPath();
      ctx.moveTo(px, a.bottom);
      ctx.lineTo(px, a.bottom + 17);
      ctx.stroke();
      ctx.textAlign = "center";
      ctx.textBaseline = "alphabetic";
      ctx.font = `52px ${FONT}`;
      ctx.fillText(X_MAJOR_LABELS[i], px, a.bottom + 79);
    });
    X_MINOR.forEach((t) => {
      const px = xs.getPixelForValue(t);
      ctx.beginPath();
      ctx.moveTo(px, a.bottom);
      ctx.lineTo(px, a.bottom + 10);
      ctx.stroke();
    });

    ctx.font = `55px ${FONT}`;
    ctx.textAlign = "center";
    ctx.textBaseline = "alphabetic";
    ctx.fillText("Time (us)", a.left + 618, a.bottom + 166);
    ctx.save();
    ctx.translate(56, a.top + 577);
    ctx.rotate(-Math.PI / 2);
    ctx.fillText("Signal (a.u.)", 0, 0);
    ctx.restore();

    ctx.font = `38px ${FONT}`;
    ctx.textAlign = "left";
    LABELS.forEach((lab, i) => {
      const ry = 111 + i * 49.2;
      ctx.strokeStyle = COLORS[i];
      ctx.lineWidth = LEGEND_WIDTHS[i];
      ctx.lineCap = "round";
      ctx.beginPath();
      ctx.moveTo(1174, ry);
      ctx.lineTo(1267, ry);
      ctx.stroke();
      ctx.fillStyle = "#000";
      ctx.fillText(lab, 1278, ry + 13);
    });
    ctx.restore();
  },
};

export default function App() {
  const ref = useRef<HTMLCanvasElement | null>(null);
  useEffect(() => {
    if (!ref.current) return;
    const datasets = LABELS.map((label, i) => ({
      label,
      data: toPoints(HEADS[i], TAILS[i]),
      borderColor: COLORS[i],
      backgroundColor: COLORS[i],
      borderWidth: WIDTHS[i],
      borderJoinStyle: "round" as const,
      borderCapStyle: "round" as const,
      pointRadius: 0,
      tension: 0,
      fill: false,
      order: LABELS.length - 1 - i,
    }));
    const chart = new Chart(ref.current, {
      type: "line",
      data: { datasets },
      options: {
        animation: false,
        responsive: false,
        devicePixelRatio: 1,
        events: [],
        layout: { padding: { left: 212, right: 54, top: 71, bottom: 183 } },
        scales: {
          x: { type: "linear", min: X_MIN, max: X_MAX, display: false },
          y: { type: "logarithmic", min: Y_MIN, max: Y_MAX, display: false },
        },
        plugins: { legend: { display: false }, tooltip: { enabled: false } },
      },
      plugins: [decorPlugin],
    });
    return () => chart.destroy();
  }, []);
  return (
    <div style={{ position: "absolute", left: 0, top: 0, width: W, height: H, background: "#fff" }}>
      <canvas ref={ref} width={W} height={H} style={{ width: W, height: H, display: "block" }} />
    </div>
  );
}
